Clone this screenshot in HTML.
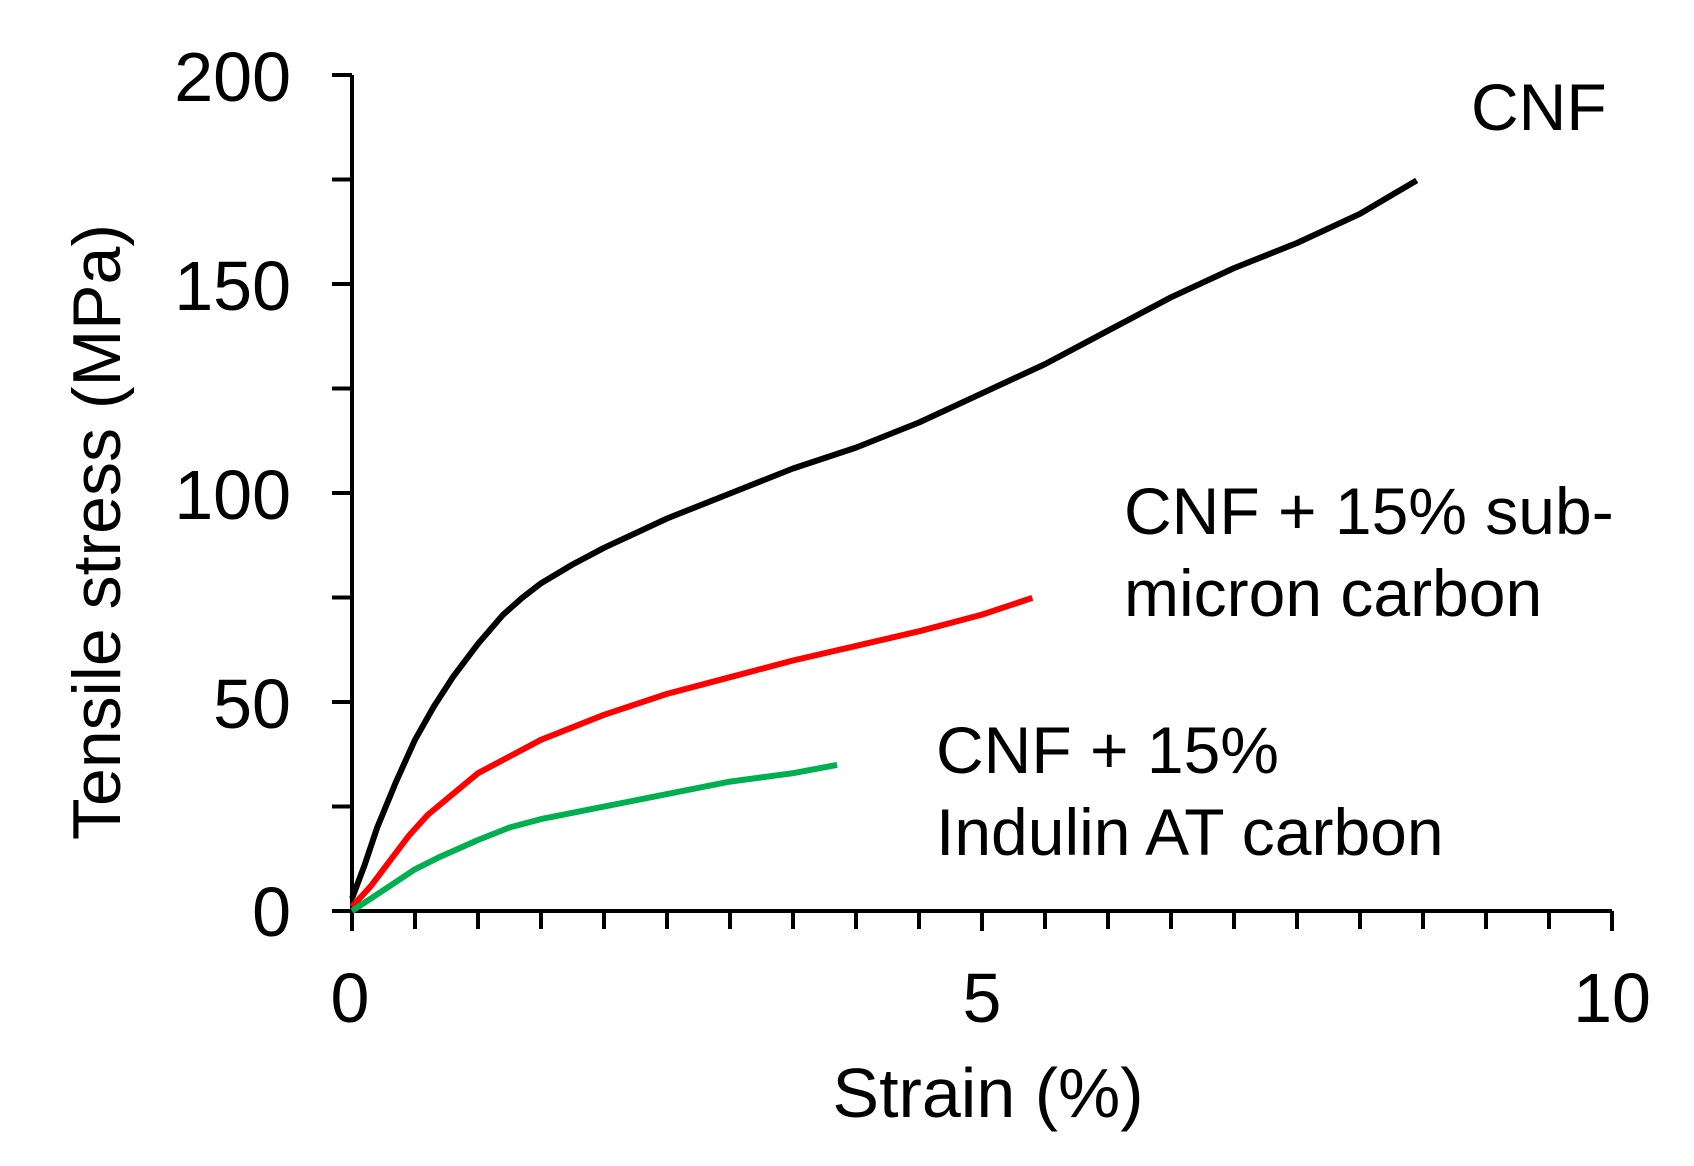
<!DOCTYPE html>
<html><head><meta charset="utf-8"><style>
html,body{margin:0;padding:0;background:#fff;}
svg{display:block;font-family:"Liberation Sans",Arial,sans-serif;}
</style></head><body>
<svg id="s" width="1694" height="1166" viewBox="0 0 1694 1166">
<g stroke="#000" stroke-width="4" fill="none" id="ax">
<line x1="352" y1="75" x2="352" y2="913"/>
<line x1="332" y1="911" x2="1612" y2="911"/>
</g>
<g font-size="70" fill="#000">
<text x="291" y="101" text-anchor="end">200</text>
<text x="291" y="310" text-anchor="end">150</text>
<text x="291" y="519" text-anchor="end">100</text>
<text x="291" y="728" text-anchor="end">50</text>
<text x="291" y="936" text-anchor="end">0</text>
<text x="350" y="1022" text-anchor="middle">0</text>
<text x="982" y="1022" text-anchor="middle">5</text>
<text x="1612" y="1022" text-anchor="middle">10</text>
<text x="988" y="1117" text-anchor="middle">Strain (%)</text>
<text transform="translate(120,532) rotate(-90)" text-anchor="middle" font-size="68">Tensile stress (MPa)</text>
</g>
<g font-size="66" fill="#000">
<text x="1471" y="130">CNF</text>
<text x="1124" y="534">CNF + 15% sub-</text>
<text x="1124" y="616">micron carbon</text>
<text x="936" y="773">CNF + 15%</text>
<text x="936" y="855">Indulin AT carbon</text>
</g>
</svg>
<script>
var s=document.getElementById('s'),ax=document.getElementById('ax'),NS='http://www.w3.org/2000/svg';
function L(x1,y1,x2,y2){var l=document.createElementNS(NS,'line');l.setAttribute('x1',x1);l.setAttribute('y1',y1);l.setAttribute('x2',x2);l.setAttribute('y2',y2);ax.appendChild(l);}
for(var i=0;i<=20;i++){var x=352+i*63;L(x,911,x,(i%10==0)?931:929);}
for(var j=0;j<=8;j++){var y=911-j*104.5;L(332,y,352,y);}
function X(v){return 352+v*126;}function Y(v){return 911-v*4.175;}
function P(d,c){var p='';d.forEach(function(q,k){p+=(k?'L':'M')+X(q[0]).toFixed(1)+' '+Y(q[1]).toFixed(1);});
var e=document.createElementNS(NS,'path');e.setAttribute('d',p);e.setAttribute('stroke',c);e.setAttribute('stroke-width','6');e.setAttribute('fill','none');e.setAttribute('stroke-linejoin','round');s.appendChild(e);}
P([[0,3],[0.1,11],[0.2,20],[0.35,31],[0.5,41],[0.65,49],[0.8,56],[1,64],[1.2,71],[1.35,75],[1.5,78.5],[1.75,83],[2,87],[2.5,94],[3,100],[3.5,106],[4,111],[4.5,117],[5,124],[5.5,131],[6,139],[6.5,147],[7,154],[7.5,160],[8,167],[8.45,175]],'#000');
P([[0,1],[0.15,6],[0.3,12],[0.45,18],[0.6,23],[0.8,28],[1,33],[1.25,37],[1.5,41],[2,47],[2.5,52],[3,56],[3.5,60],[4,63.5],[4.5,67],[5,71],[5.4,75]],'#f00');
P([[0,0],[0.15,3],[0.3,6],[0.5,10],[0.7,13],[1,17],[1.25,20],[1.5,22],[2,25],[2.5,28],[3,31],[3.5,33],[3.85,35]],'#00b050');
</script>
</body></html>
